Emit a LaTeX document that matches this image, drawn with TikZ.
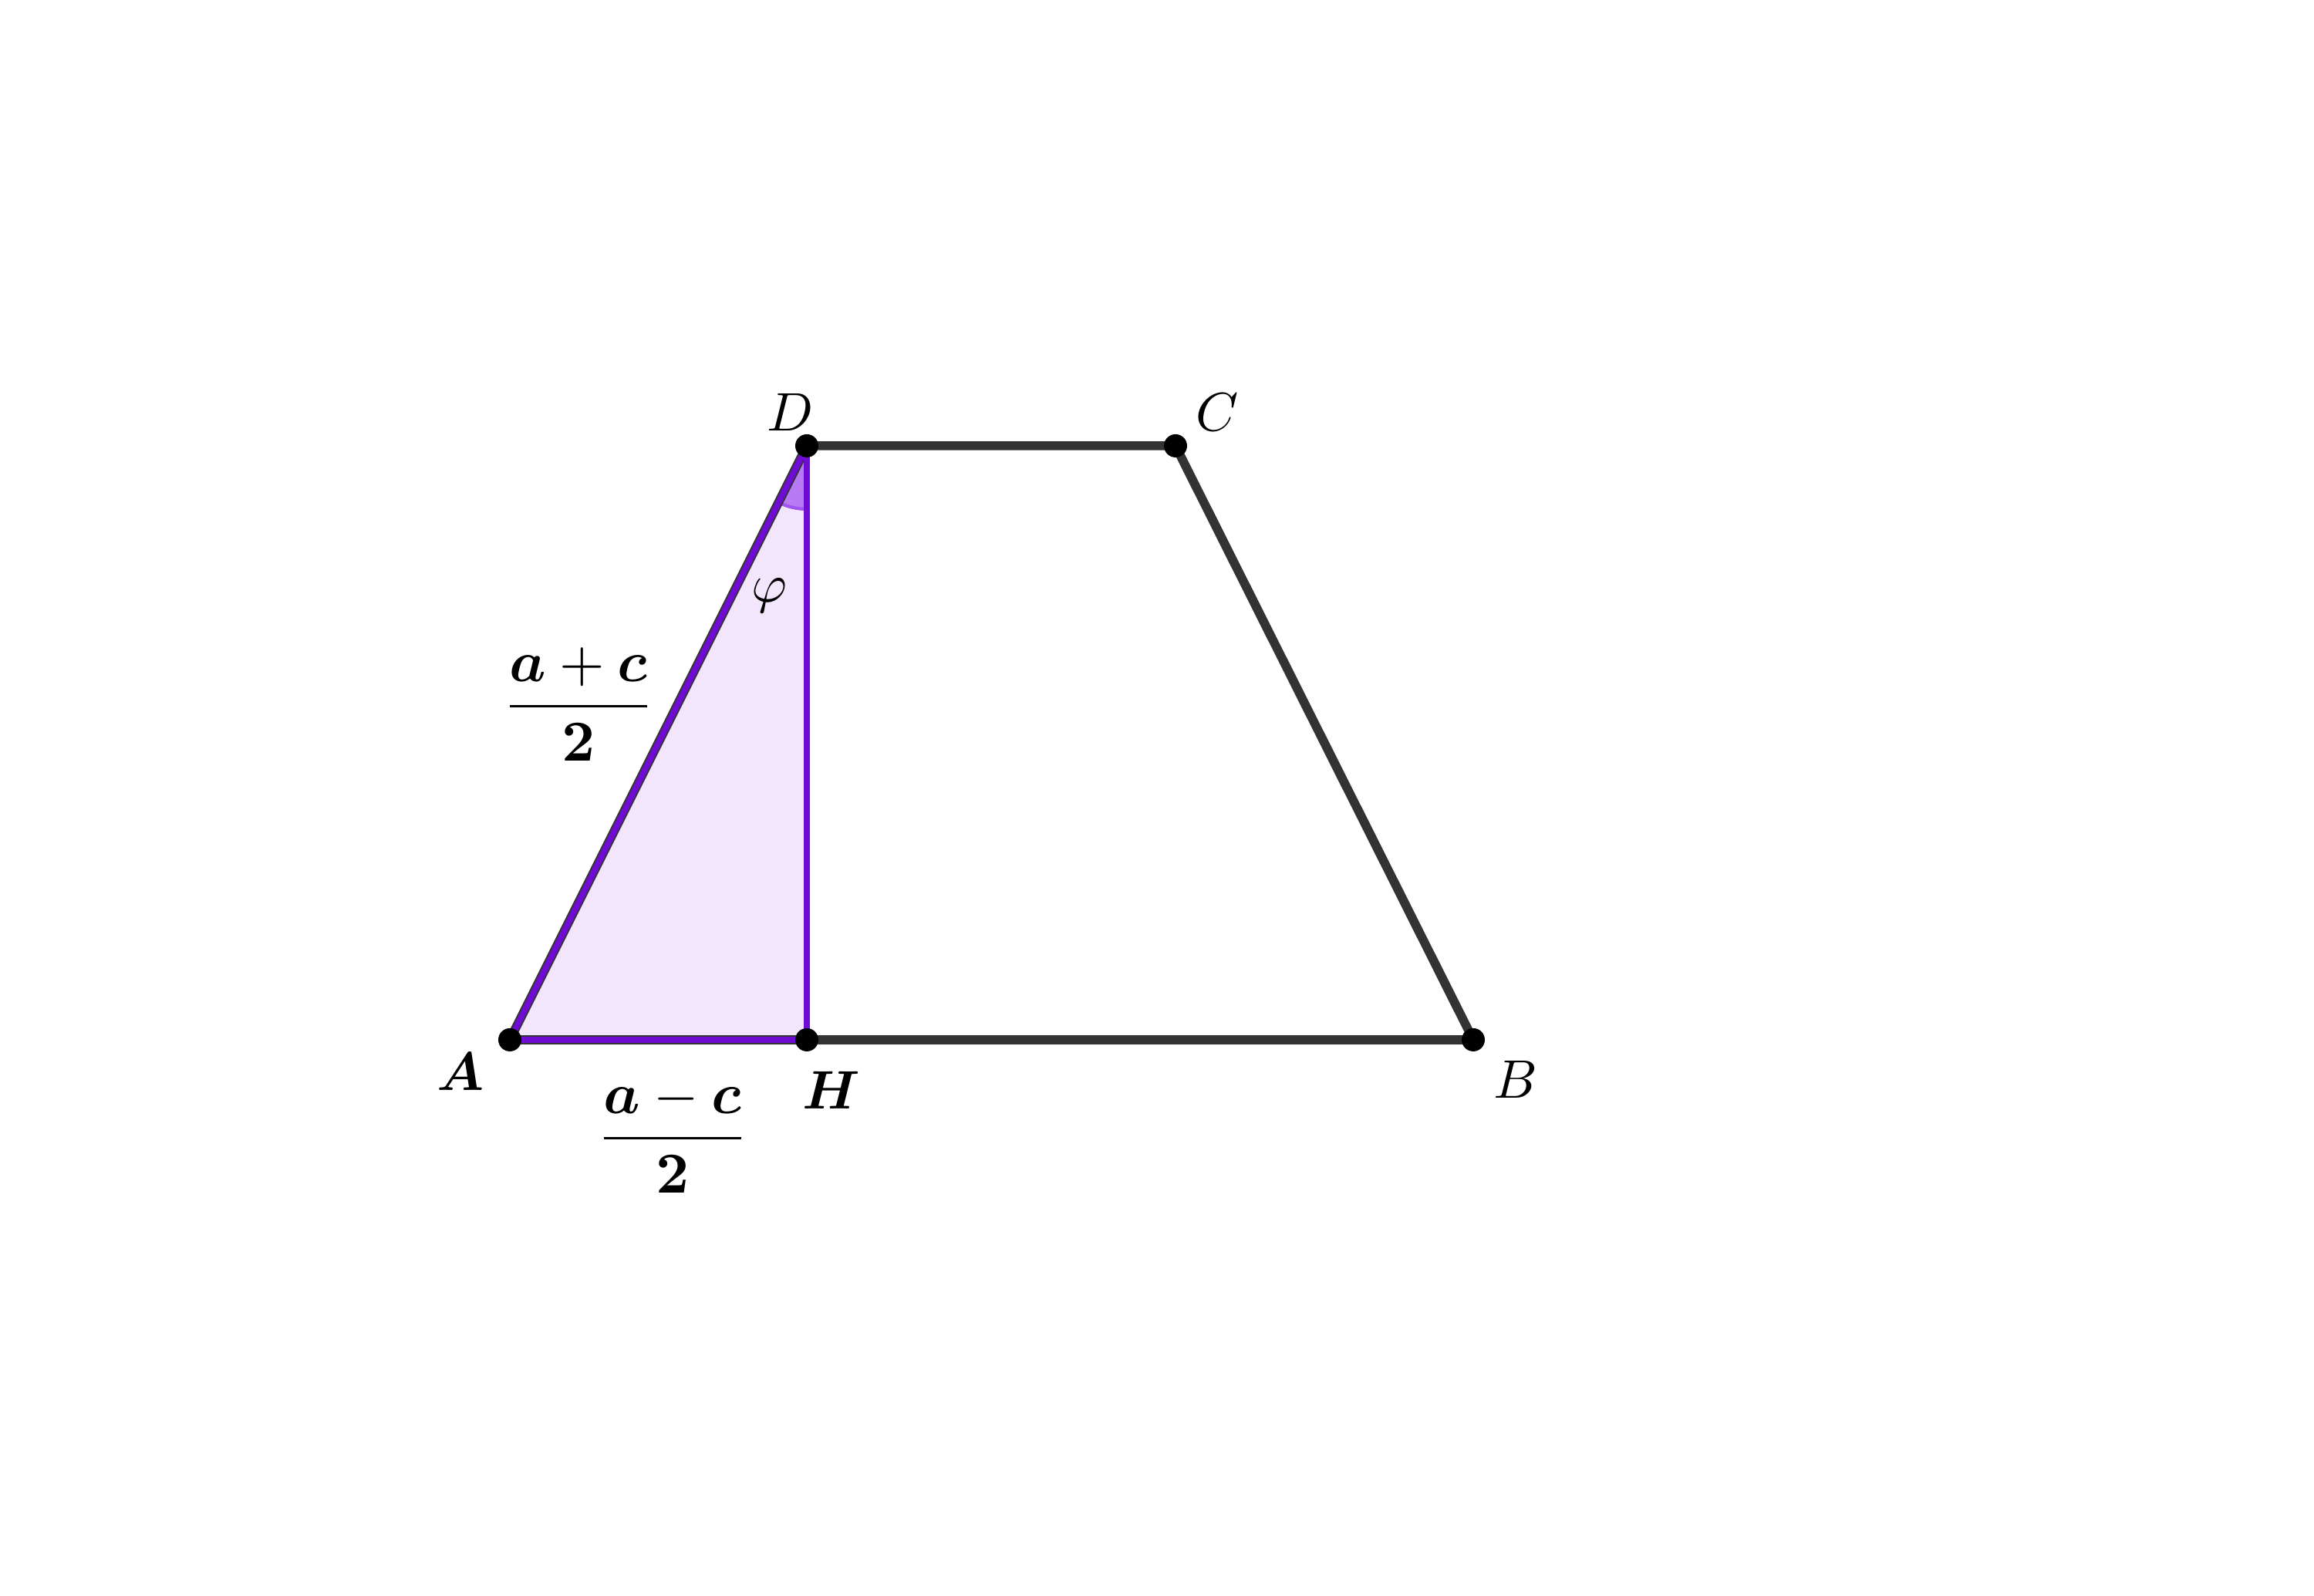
\documentclass[tikz,border=0pt]{standalone}
\usepackage{amsmath, amssymb, bm}
\usepackage{xcolor}
\usepackage{tikz}
\usetikzlibrary{angles, calc}
\definecolor{edgegray}{RGB}{51,51,51}
\definecolor{trivio}{RGB}{110,12,212}
\definecolor{trifill}{RGB}{242,230,252}
\definecolor{anglefill}{RGB}{185,122,246}
\definecolor{angleedge}{RGB}{160,84,240}

\begin{document}
\begin{tikzpicture}[
  side/.style={draw=edgegray, line width=1.65pt, line cap=round, line join=round},
  purpleside/.style={draw=trivio, line width=1.1pt, line cap=round},
  dot/.style={circle, fill=black, inner sep=0pt, minimum size=0.15cm},
  ptlabel/.style={inner sep=0pt},
  fraclabel/.style={inner sep=0pt, scale=1.07}
]
\useasboundingbox (0,0) rectangle (15,10.345);

% points
\coordinate (A) at (3.305,3.605);
\coordinate (H) at (5.23,3.605);
\coordinate (B) at (9.55,3.605);
\coordinate (C) at (7.62,7.455);
\coordinate (D) at (5.23,7.455);

% triangle AHD
\fill[trifill] (A) -- (H) -- (D) -- cycle;
\pic[draw=angleedge, fill=anglefill, line width=0.6pt, angle radius=0.41cm] {angle = A--D--H};

% trapezoid
\draw[side] (A) -- (B) -- (C) -- (D) -- cycle;

\draw[purpleside] (A) -- (D);
\draw[purpleside] (A) -- (H);
\draw[purpleside] (D) -- (H);

\foreach \p in {A,H,B,C,D}
  \node[dot] (dot\p) at (\p) {};

% labels
\node[ptlabel] (labA) at (2.985,3.40) {$\bm{A}$};
\node[ptlabel] (labH) at (5.39,3.28) {$\bm{H}$};
\node[ptlabel] (labB) at (9.825,3.345) {$B$};
\node[ptlabel] (labC) at (7.89,7.67) {$C$};
\node[ptlabel] (labD) at (5.125,7.67) {$D$};
\node[ptlabel] (labphi) at (4.985,6.485) {$\varphi$};

\node[fraclabel] (sum) at (3.75,5.78) {$\displaystyle\frac{\bm{a}+\bm{c}}{\mathbf{2}}$};
\node[fraclabel] (diff) at (4.36,2.98) {$\displaystyle\frac{\bm{a}-\bm{c}}{\mathbf{2}}$};

\end{tikzpicture}
\end{document}
